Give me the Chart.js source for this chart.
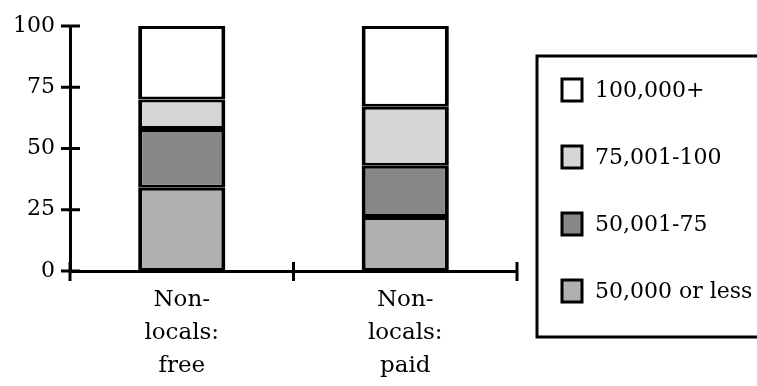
<!DOCTYPE html>
<html>
<head>
<meta charset="utf-8">
<script src="https://cdn.jsdelivr.net/npm/chart.js@4/dist/chart.umd.min.js"></script>
<style>
    html, body { margin: 0; padding: 0; background: #fff; }
    #wrap { width: 757px; height: 386px; }
</style>
</head>
<body>
<div id="wrap"><canvas id="incomeChart" width="757" height="386"></canvas></div>
<script>
// Data (percent of group)
const categories = [["Non-", "locals:", "free"], ["Non-", "locals:", "paid"]];
const seriesLabels = ["50,000 or less", "50,001-75", "75,001-100", "100,000+"];
const under50k = [34, 22];
const from50to75 = [24, 21];
const from75to100 = [12, 24];
const over100k = [30, 33];
const yTicks = [0, 25, 50, 75, 100];

const fills = ["#b0b0b0", "#888888", "#d6d6d6", "#ffffff"];
const FONT = "'DejaVu Serif', serif";

// tick marks that cross the axis lines, plus the boxed legend on the right
const axisPlugin = {
    id: "crossTicks",
    afterDraw: (chart) => {
        const { ctx, chartArea, scales } = chart;
        ctx.save();
        ctx.strokeStyle = "#000";
        ctx.lineWidth = 3;

        // y ticks
        yTicks.forEach((t) => {
            const y = scales.y.getPixelForValue(t);
            ctx.beginPath();
            ctx.moveTo(chartArea.left - 9, y);
            ctx.lineTo(chartArea.left + 10, y);
            ctx.stroke();
        });
        // x ticks at category edges
        for (let i = 0; i <= categories.length; i++) {
            const x = scales.x.getPixelForValue(i - 0.5);
            ctx.beginPath();
            ctx.moveTo(x, chartArea.bottom - 9);
            ctx.lineTo(x, chartArea.bottom + 10);
            ctx.stroke();
        }

        // legend box
        ctx.lineWidth = 3;
        ctx.strokeRect(537, 56, 240, 281);
        ctx.font = "22px " + FONT;
        ctx.textBaseline = "middle";
        const order = [3, 2, 1, 0];
        order.forEach((d, i) => {
            const cy = 90 + i * 67;
            ctx.fillStyle = fills[d];
            ctx.fillRect(562, cy - 11, 20, 22);
            ctx.lineWidth = 3;
            ctx.strokeRect(562, cy - 11, 20, 22);
            ctx.fillStyle = "#000";
            ctx.fillText(seriesLabels[d], 595, cy + 1);
        });
        ctx.restore();
    },
};

const values = [under50k, from50to75, from75to100, over100k];

new Chart(document.getElementById("incomeChart"), {
    type: "bar",
    data: {
        labels: categories,
        datasets: seriesLabels.map((lab, i) => ({
            label: lab,
            data: values[i],
            backgroundColor: fills[i],
            borderColor: "#000",
            borderWidth: { top: 3, bottom: 3, left: 4, right: 4 },
            borderSkipped: false,
            inflateAmount: 0,
            categoryPercentage: 1,
            barPercentage: 0.39,
        })),
    },
    options: {
        responsive: false,
        animation: false,
        layout: {
            padding: { top: 26, right: 240, left: 0, bottom: 0 },
        },
        scales: {
            x: {
                stacked: true,
                grid: { display: false },
                border: { display: true, color: "#000", width: 3 },
                ticks: {
                    color: "#000",
                    padding: 4,
                    maxRotation: 0,
                    font: { family: FONT, size: 23, lineHeight: 1.45 },
                },
                afterFit: (scale) => { scale.height = 115; },
            },
            y: {
                stacked: true,
                min: 0,
                max: 100,
                grid: { display: false },
                border: { display: true, color: "#000", width: 3 },
                afterBuildTicks: (scale) => {
                    scale.ticks = yTicks.map((v) => ({ value: v }));
                },
                ticks: {
                    color: "#000",
                    padding: 7,
                    font: { family: FONT, size: 22 },
                },
                afterFit: (scale) => { scale.width = 70; },
            },
        },
        plugins: {
            legend: { display: false },
            tooltip: { enabled: false },
        },
    },
    plugins: [axisPlugin],
});
</script>
</body>
</html>
